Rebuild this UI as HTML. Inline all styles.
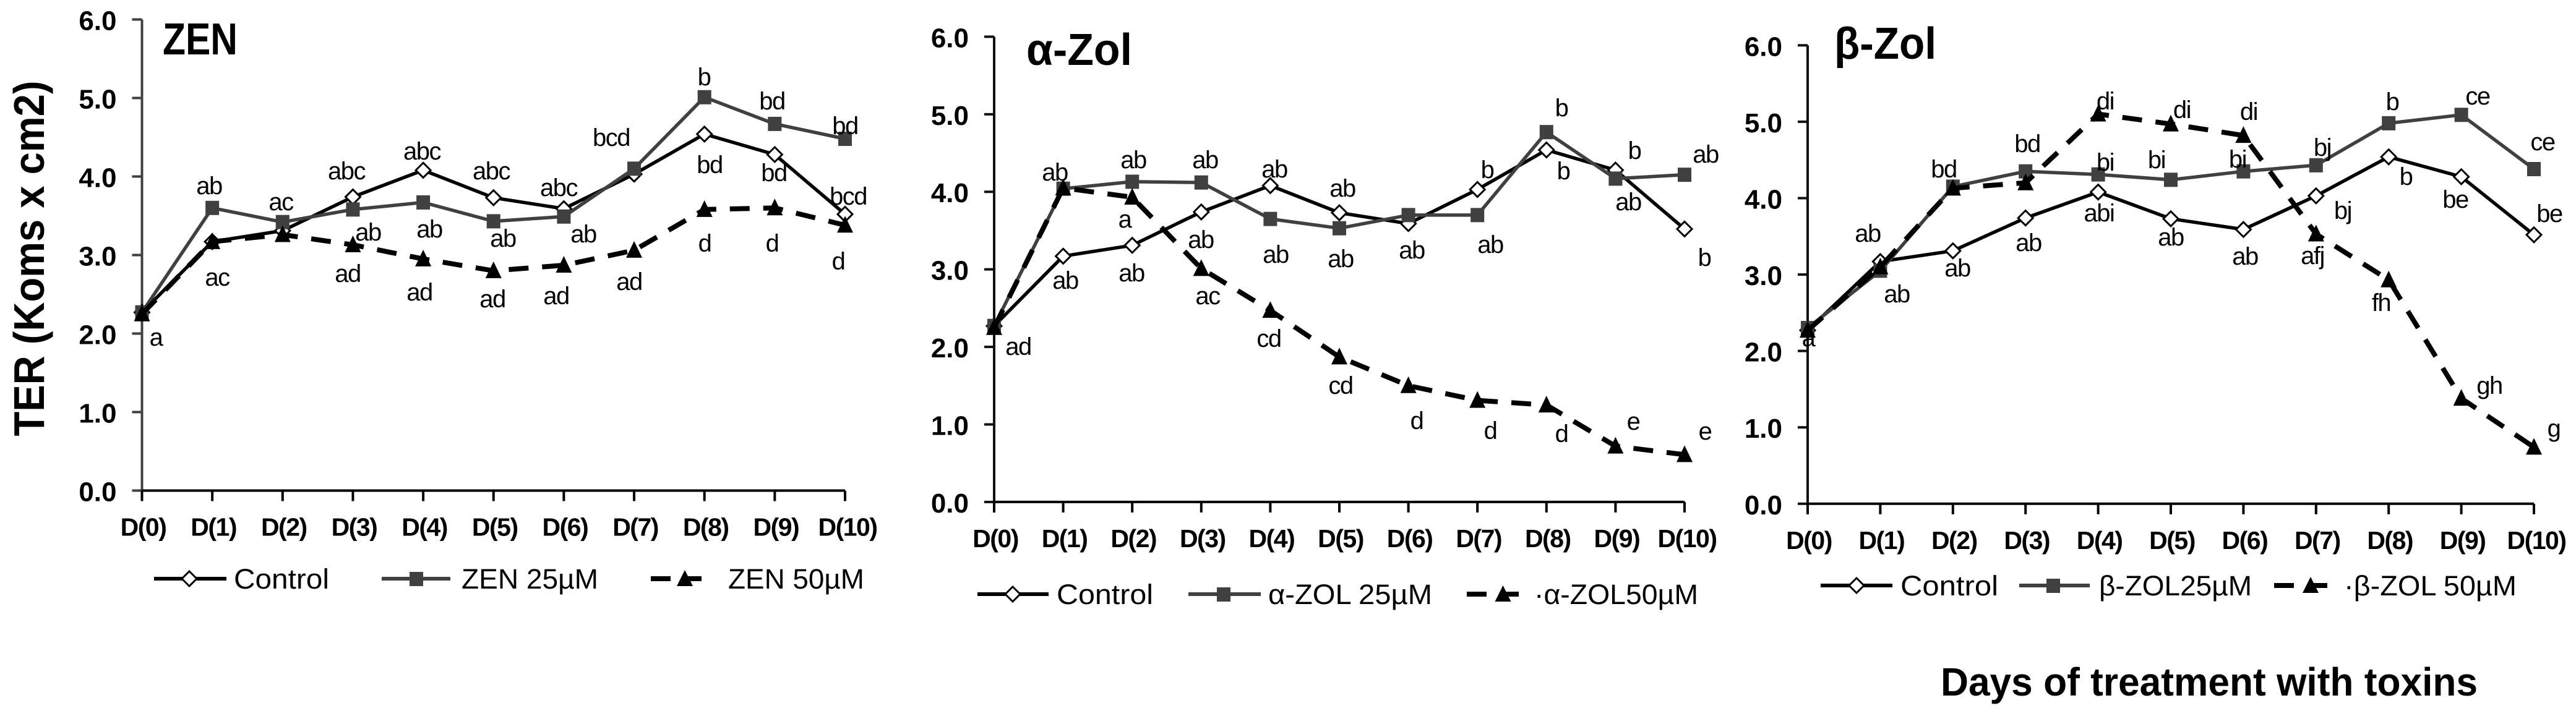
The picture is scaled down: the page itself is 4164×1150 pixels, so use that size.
<!DOCTYPE html>
<html lang="en">
<head>
<meta charset="utf-8">
<title>TER over days of treatment with toxins</title>
<style>
html,body{margin:0;padding:0;background:#fff;width:4164px;height:1150px;overflow:hidden}
svg{display:block}
text{font-family:"Liberation Sans",sans-serif;fill:#000}
.sig{font-size:40px;text-anchor:middle;letter-spacing:-1.5px}
.leg{font-size:45px}
.ttl{font-size:72px;font-weight:bold}
.ytick{font-size:44px;font-weight:bold;text-anchor:end}
.xtick{font-size:41px;font-weight:bold;text-anchor:middle;letter-spacing:-1.5px}
</style>
</head>
<body>
<svg id="figure" xmlns="http://www.w3.org/2000/svg" width="4164" height="1150" viewBox="0 0 4164 1150">
<rect width="4164" height="1150" fill="#fff"/>
<text transform="translate(71,418) rotate(-90)" text-anchor="middle" font-size="70" font-weight="bold" textLength="575" lengthAdjust="spacingAndGlyphs">TER (Koms x cm2)</text>
<g id="plot-zen"></g>
<g id="plot-alpha"></g>
<g id="plot-beta"></g>

<!-- ZEN panel annotations and legend -->
<g>
<text class="ttl" x="263" y="88" textLength="121" lengthAdjust="spacingAndGlyphs">ZEN</text>
<text class="sig" x="252" y="559">a</text>
<text class="sig" x="338" y="314">ab</text>
<text class="sig" x="351" y="462">ac</text>
<text class="sig" x="454" y="340">ac</text>
<text class="sig" x="560" y="290">abc</text>
<text class="sig" x="595" y="389">ab</text>
<text class="sig" x="562" y="456">ad</text>
<text class="sig" x="682" y="258">abc</text>
<text class="sig" x="694" y="384">ab</text>
<text class="sig" x="678" y="486">ad</text>
<text class="sig" x="794" y="290">abc</text>
<text class="sig" x="813" y="399">ab</text>
<text class="sig" x="796" y="497">ad</text>
<text class="sig" x="903" y="317">abc</text>
<text class="sig" x="943" y="392">ab</text>
<text class="sig" x="899" y="492">ad</text>
<text class="sig" x="988" y="236">bcd</text>
<text class="sig" x="1017" y="469">ad</text>
<text class="sig" x="1138" y="138">b</text>
<text class="sig" x="1147" y="280">bd</text>
<text class="sig" x="1139" y="407">d</text>
<text class="sig" x="1248" y="177">bd</text>
<text class="sig" x="1251" y="293">bd</text>
<text class="sig" x="1248" y="407">d</text>
<text class="sig" x="1366" y="217">bd</text>
<text class="sig" x="1371" y="331">bcd</text>
<text class="sig" x="1355" y="436">d</text>
<g>
<g>
<line x1="249" y1="936" x2="366" y2="936" stroke="#000" stroke-width="6"/>
<polygon points="306,924 318,936 306,948 294,936" fill="#fff" stroke="#000" stroke-width="3"/>
<text class="leg" x="378" y="952" textLength="154" lengthAdjust="spacingAndGlyphs">Control</text>
</g>
<g>
<line x1="617" y1="936" x2="728" y2="936" stroke="#404040" stroke-width="6"/>
<rect x="662" y="925" width="22" height="23" fill="#404040"/>
<text class="leg" x="746" y="952" textLength="221" lengthAdjust="spacingAndGlyphs">ZEN 25µM</text>
</g>
<g>
<line x1="1052" y1="936" x2="1134" y2="936" stroke="#000" stroke-width="8" stroke-dasharray="32 22"/>
<polygon points="1107,922 1120,948 1094,948" fill="#000"/>
<text class="leg" x="1177" y="952" textLength="220" lengthAdjust="spacingAndGlyphs">ZEN 50µM</text>
</g>
</g>
</g>

<!-- alpha-Zol panel annotations and legend -->
<g>
<text class="ttl" x="1659" y="105" textLength="171" lengthAdjust="spacingAndGlyphs">α-Zol</text>
<text class="sig" x="1646" y="574">ad</text>
<text class="sig" x="1705" y="292">ab</text>
<text class="sig" x="1722" y="467">ab</text>
<text class="sig" x="1832" y="272">ab</text>
<text class="sig" x="1818" y="368">a</text>
<text class="sig" x="1829" y="455">ab</text>
<text class="sig" x="1948" y="272">ab</text>
<text class="sig" x="1941" y="401">ab</text>
<text class="sig" x="1952" y="492">ac</text>
<text class="sig" x="2060" y="287">ab</text>
<text class="sig" x="2062" y="425">ab</text>
<text class="sig" x="2051" y="561">cd</text>
<text class="sig" x="2170" y="318">ab</text>
<text class="sig" x="2167" y="432">ab</text>
<text class="sig" x="2167" y="637">cd</text>
<text class="sig" x="2282" y="418">ab</text>
<text class="sig" x="2290" y="694">d</text>
<text class="sig" x="2404" y="288">b</text>
<text class="sig" x="2409" y="409">ab</text>
<text class="sig" x="2409" y="710">d</text>
<text class="sig" x="2524" y="188">b</text>
<text class="sig" x="2527" y="290">b</text>
<text class="sig" x="2524" y="715">d</text>
<text class="sig" x="2642" y="257">b</text>
<text class="sig" x="2632" y="340">ab</text>
<text class="sig" x="2640" y="695">e</text>
<text class="sig" x="2757" y="263">ab</text>
<text class="sig" x="2755" y="430">b</text>
<text class="sig" x="2756" y="711">e</text>
<g>
<g>
<line x1="1580" y1="961" x2="1695" y2="961" stroke="#000" stroke-width="6"/>
<polygon points="1637,949 1649,961 1637,973 1625,961" fill="#fff" stroke="#000" stroke-width="3"/>
<text class="leg" x="1708" y="977" textLength="156" lengthAdjust="spacingAndGlyphs">Control</text>
</g>
<g>
<line x1="1921" y1="961" x2="2038" y2="961" stroke="#404040" stroke-width="6"/>
<rect x="1967" y="950" width="22" height="23" fill="#404040"/>
<text class="leg" x="2050" y="977" textLength="265" lengthAdjust="spacingAndGlyphs">α-ZOL 25µM</text>
</g>
<g>
<line x1="2371" y1="961" x2="2455" y2="961" stroke="#000" stroke-width="8" stroke-dasharray="32 22"/>
<polygon points="2429.5,947 2442.5,973 2416.5,973" fill="#000"/>
<text class="leg" x="2480" y="977" textLength="265" lengthAdjust="spacingAndGlyphs">·α-ZOL50µM</text>
</g>
</g>
</g>

<!-- beta-Zol panel annotations and legend -->
<g>
<text class="ttl" x="2965" y="95" textLength="165" lengthAdjust="spacingAndGlyphs">β-Zol</text>
<text class="sig" x="2923" y="560">a</text>
<text class="sig" x="3019" y="391">ab</text>
<text class="sig" x="3066" y="489">ab</text>
<text class="sig" x="3164" y="447">ab</text>
<text class="sig" x="3142" y="287">bd</text>
<text class="sig" x="3277" y="246">bd</text>
<text class="sig" x="3279" y="406">ab</text>
<text class="sig" x="3403" y="177">di</text>
<text class="sig" x="3403" y="276">bi</text>
<text class="sig" x="3393" y="358">abi</text>
<text class="sig" x="3527" y="191">di</text>
<text class="sig" x="3486" y="272">bi</text>
<text class="sig" x="3509" y="397">ab</text>
<text class="sig" x="3635" y="194">di</text>
<text class="sig" x="3617" y="271">bi</text>
<text class="sig" x="3629" y="428">ab</text>
<text class="sig" x="3754" y="252">bj</text>
<text class="sig" x="3787" y="354">bj</text>
<text class="sig" x="3738" y="427">afj</text>
<text class="sig" x="3867" y="178">b</text>
<text class="sig" x="3889" y="299">b</text>
<text class="sig" x="3849" y="503">fh</text>
<text class="sig" x="4005" y="169">ce</text>
<text class="sig" x="3969" y="336">be</text>
<text class="sig" x="4024" y="637">gh</text>
<text class="sig" x="4110" y="243">ce</text>
<text class="sig" x="4121" y="359">be</text>
<text class="sig" x="4128" y="706">g</text>
<g>
<g>
<line x1="2943" y1="947" x2="3059" y2="947" stroke="#000" stroke-width="6"/>
<polygon points="3001,935 3013,947 3001,959 2989,947" fill="#fff" stroke="#000" stroke-width="3"/>
<text class="leg" x="3072" y="963" textLength="158" lengthAdjust="spacingAndGlyphs">Control</text>
</g>
<g>
<line x1="3264" y1="947" x2="3378" y2="947" stroke="#404040" stroke-width="6"/>
<rect x="3308" y="936" width="22" height="23" fill="#404040"/>
<text class="leg" x="3393" y="963" textLength="247" lengthAdjust="spacingAndGlyphs">β-ZOL25µM</text>
</g>
<g>
<line x1="3676" y1="947" x2="3762" y2="947" stroke="#000" stroke-width="8" stroke-dasharray="32 22"/>
<polygon points="3735,933 3748,959 3722,959" fill="#000"/>
<text class="leg" x="3789" y="963" textLength="279" lengthAdjust="spacingAndGlyphs">·β-ZOL 50µM</text>
</g>
</g>
<text x="3137" y="1125" font-size="64" font-weight="bold" textLength="868" lengthAdjust="spacingAndGlyphs">Days of treatment with toxins</text>
</g>
</svg>

<script>
const dayLabels = ['D(0)','D(1)','D(2)','D(3)','D(4)','D(5)','D(6)','D(7)','D(8)','D(9)','D(10)'];
const yTickValues = [0,1,2,3,4,5,6];
const controlValues = [2.27,3.17,3.31,3.74,4.08,3.73,3.59,4.03,4.54,4.28,3.52];
const zen25Values = [2.27,3.60,3.42,3.58,3.67,3.43,3.49,4.10,5.01,4.67,4.48];
const zen50Values = [2.25,3.17,3.26,3.13,2.95,2.80,2.87,3.06,3.58,3.60,3.38];
const alpha25Values = [2.27,4.04,4.13,4.12,3.65,3.53,3.70,3.70,4.77,4.17,4.22];
const alpha50Values = [2.25,4.05,3.93,3.01,2.47,1.87,1.50,1.31,1.25,0.72,0.61];
const beta25Values = [2.30,3.05,4.15,4.35,4.31,4.24,4.35,4.43,4.98,5.09,4.38];
const beta50Values = [2.27,3.10,4.13,4.20,5.10,4.97,4.82,3.53,2.93,1.38,0.74];

const SVG_NS = 'http://www.w3.org/2000/svg';
function make(parent, tag, attrs, content) {
  const node = document.createElementNS(SVG_NS, tag);
  for (const key in attrs) node.setAttribute(key, attrs[key]);
  if (content !== undefined) node.textContent = content;
  parent.appendChild(node);
  return node;
}

function drawPanel(groupId, box, mid, high) {
  const group = document.getElementById(groupId);
  const xScale = i => box.left + (box.right - box.left) * i / (dayLabels.length - 1);
  const yScale = v => box.bottom + (box.top - box.bottom) * v / 6;

  const yAxis = make(group, 'line', {x1: box.left, y1: box.top, x2: box.left, y2: box.bottom + 17, stroke: box.axis, 'stroke-width': 4});
  
  
  const xAxis = make(group, 'line', {x1: box.left, y1: box.bottom, x2: box.right, y2: box.bottom, stroke: '#000', 'stroke-width': 4});
  
  

  yTickValues.forEach(v => {
    const mark = make(group, 'line', {x1: box.left - 16, y1: yScale(v), x2: box.left, y2: yScale(v), stroke: box.axis, 'stroke-width': 4});
    
    
    const label = make(group, 'text', {class: 'ytick', x: box.left - 41, y: yScale(v) + 17}, v.toFixed(1));
    
    
  });

  dayLabels.forEach((d, i) => {
    const mark = make(group, 'line', {x1: xScale(i), y1: box.bottom, x2: xScale(i), y2: box.bottom + 17, stroke: '#000', 'stroke-width': 4});
    
    
    const label = make(group, 'text', {class: 'xtick', x: xScale(i) + (i === 10 ? 4 : 2), y: box.bottom + 73}, d);
    
    
  });

  const pts = vals => vals.map((v, i) => xScale(i).toFixed(1) + ',' + yScale(v).toFixed(1)).join(' ');

  const controlLine = make(group, 'polyline', {points: pts(controlValues), fill: 'none', stroke: '#000', 'stroke-width': 5.5, 'stroke-linejoin': 'round'});
  
  
  controlValues.forEach((v, i) => {
    const x = xScale(i), y = yScale(v), r = 12;
    const marker = make(group, 'polygon', {points: `${x},${y - r} ${x + r},${y} ${x},${y + r} ${x - r},${y}`, fill: '#fff', stroke: '#000', 'stroke-width': 3});
    
    
  });

  const midLine = make(group, 'polyline', {points: pts(mid), fill: 'none', stroke: '#404040', 'stroke-width': 5.5, 'stroke-linejoin': 'round'});
  
  
  mid.forEach((v, i) => {
    const marker = make(group, 'rect', {x: xScale(i) - 11, y: yScale(v) - 11.5, width: 22, height: 23, fill: '#404040'});
    
    
  });

  const highLine = make(group, 'polyline', {points: pts(high), fill: 'none', stroke: '#000', 'stroke-width': 8, 'stroke-dasharray': '32 22'});
  
  
  high.forEach((v, i) => {
    const x = xScale(i), y = yScale(v);
    const marker = make(group, 'polygon', {points: `${x},${y - 15} ${x + 13},${y + 12} ${x - 13},${y + 12}`, fill: '#000'});
    
    
  });
}

drawPanel('plot-zen', {left: 229.5, right: 1366, top: 31.5, bottom: 793.5, axis: '#404040'}, zen25Values, zen50Values);
drawPanel('plot-alpha', {left: 1607, right: 2723, top: 59.4, bottom: 811.9, axis: '#111'}, alpha25Values, alpha50Values);
drawPanel('plot-beta', {left: 2922, right: 4096, top: 73.3, bottom: 814.8, axis: '#111'}, beta25Values, beta50Values);
</script>
</body>
</html>
